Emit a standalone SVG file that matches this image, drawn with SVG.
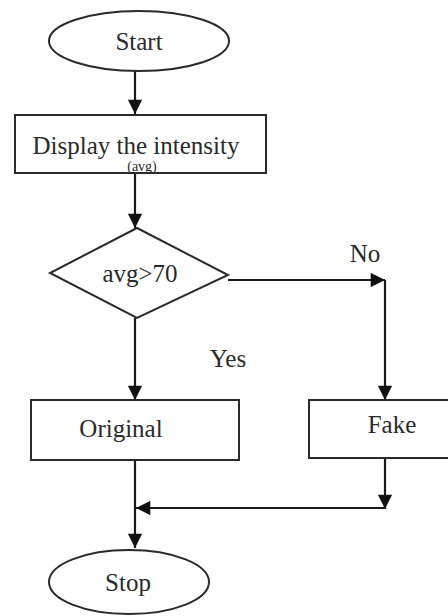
<svg xmlns="http://www.w3.org/2000/svg" width="448" height="616" viewBox="0 0 448 616">
<style>
.shape{fill:#fff;stroke:#2a2a2a;stroke-width:2}
.line{fill:none;stroke:#1a1a1a;stroke-width:2.2}
.t{fill:#2a2a2a;text-anchor:middle}
.big{font-size:25px}
.small{font-size:14px}
</style>
<defs>
<marker id="ah" viewBox="0 0 10 10" refX="10" refY="5" markerWidth="7" markerHeight="6.5" markerUnits="strokeWidth" orient="auto">
<path d="M0,0 L10,5 L0,10 Z" fill="#111"/>
</marker>
</defs>
<rect width="448" height="616" fill="#fff"/>
<g font-family="'Liberation Serif', 'DejaVu Serif', 'Times New Roman', serif">
<g id="connectors">
<line class="line" x1="135" y1="71" x2="135" y2="114" marker-end="url(#ah)"/>
<line class="line" x1="135" y1="173" x2="135" y2="228" marker-end="url(#ah)"/>
<line class="line" x1="228" y1="280" x2="385" y2="280" marker-end="url(#ah)"/>
<line class="line" x1="385" y1="280" x2="385" y2="400" marker-end="url(#ah)"/>
<line class="line" x1="135" y1="318" x2="135" y2="400" marker-end="url(#ah)"/>
<line class="line" x1="385" y1="458" x2="385" y2="509" marker-end="url(#ah)"/>
<line class="line" x1="385" y1="508" x2="136" y2="508" marker-end="url(#ah)"/>
<line class="line" x1="135" y1="460" x2="135" y2="548" marker-end="url(#ah)"/>
<text class="t big" x="365" y="262">No</text>
<text class="t big" x="228" y="367">Yes</text>
</g>
<g id="start">
<ellipse class="shape" cx="139" cy="41" rx="90" ry="30"/>
<text class="t big" x="139" y="50">Start</text>
</g>
<g id="display">
<rect class="shape" x="15" y="115" width="251" height="58"/>
<text class="t big" x="136" y="154">Display the intensity</text>
<text class="t small" x="142" y="171">(avg)</text>
</g>
<g id="decision">
<polygon class="shape" points="137,228 228,275 137,318 50,273"/>
<text class="t big" x="140" y="282">avg&gt;70</text>
</g>
<g id="original">
<rect class="shape" x="31" y="400" width="208" height="60"/>
<text class="t big" x="121" y="437">Original</text>
</g>
<g id="fake">
<rect class="shape" x="309" y="400" width="140" height="58"/>
<text class="t big" x="392" y="433">Fake</text>
</g>
<g id="stop">
<ellipse class="shape" cx="129" cy="582" rx="80" ry="32"/>
<text class="t big" x="128" y="591">Stop</text>
</g>
</g>
</svg>
